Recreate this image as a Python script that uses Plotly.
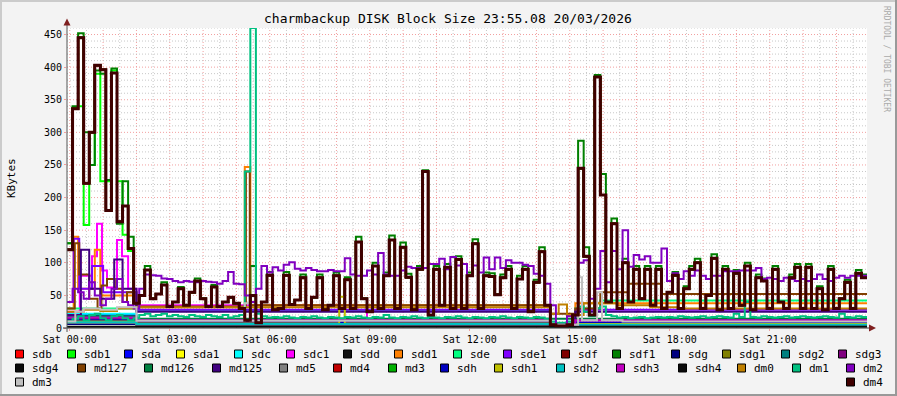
import plotly.graph_objects as go
import pandas as pd

START = pd.Timestamp("2026-03-20 23:55:00")
END = pd.Timestamp("2026-03-21 23:55:00")

# ---- 10-minute series (144 intervals from 23:55) ----
DM4 = [120, 336, 445, 222, 300, 403, 396, 180, 391, 163, 187, 122, 38,
       50, 89, 45, 52, 66, 33, 40, 60, 35, 55, 72, 45, 33, 63, 33, 40, 47, 38, 30, 12,
       50, 8, 40, 81, 28, 30, 81, 36, 43, 77, 30, 47, 77, 28, 35, 80, 30, 74, 30, 132,
       45, 25, 95, 30, 80, 135, 30, 124, 78, 28, 90, 240, 20, 90, 35, 93, 30, 105, 30,
       80, 129, 30, 80, 79, 51, 77, 90, 30, 75, 90, 25, 70, 117, 35, 5, 3, 3, 5,
       20, 245, 110, 20, 385, 204, 40, 160, 30, 100, 40, 90, 45, 90, 35, 90, 30,
       55, 81, 30, 60, 90, 100, 30, 50, 107, 28, 90, 30, 84, 35, 95, 28, 77, 72,
       30, 90, 40, 30, 77, 93, 30, 93, 30, 60, 28, 90, 30, 45, 70, 30, 84, 77]

SDF1 = [130, 340, 452, 300, 250, 395, 390, 227, 398, 160, 225, 140, 38,
        50, 95, 45, 52, 70, 33, 40, 63, 35, 55, 76, 45, 33, 66, 33, 40, 47, 38, 30, 12,
        95, 8, 40, 86, 28, 30, 86, 36, 43, 82, 30, 47, 82, 28, 35, 85, 30, 78, 30, 140,
        45, 25, 100, 30, 85, 142, 30, 131, 83, 28, 95, 242, 20, 95, 35, 98, 30, 110, 30,
        85, 136, 30, 85, 84, 51, 82, 95, 30, 80, 95, 25, 74, 124, 35, 5, 3, 3, 5,
        20, 287, 124, 20, 388, 236, 40, 168, 30, 106, 40, 95, 45, 95, 35, 95, 30,
        55, 86, 30, 64, 95, 106, 30, 50, 113, 28, 95, 30, 89, 35, 100, 28, 82, 76,
        30, 95, 40, 30, 82, 98, 30, 98, 30, 64, 28, 95, 30, 45, 74, 30, 89, 82]

SDB1 = [130, 338, 340, 158, 250, 390, 225, 225, 395, 225, 143, 118, 38,
        50, 89, 45, 52, 66, 33, 40, 60, 35, 55, 72, 45, 33, 63, 33, 40, 47, 38, 30, 12,
        50, 8, 40, 81, 28, 30, 81, 36, 43, 77, 30, 47, 77, 28, 35, 80, 30, 74, 30, 132,
        45, 25, 95, 30, 80, 135, 30, 124, 78, 28, 90, 240, 20, 90, 35, 93, 30, 105, 30,
        80, 129, 30, 80, 79, 51, 77, 90, 30, 75, 90, 25, 70, 117, 35, 5, 3, 3, 5,
        20, 245, 110, 20, 385, 204, 40, 160, 30, 100, 40, 90, 45, 90, 35, 90, 30,
        55, 81, 30, 60, 90, 100, 30, 50, 107, 28, 90, 30, 84, 35, 95, 28, 77, 72,
        30, 90, 40, 30, 77, 93, 30, 93, 30, 60, 28, 90, 30, 45, 70, 30, 84, 77]

DM2 = [40, 60, 55, 45, 70, 50, 35, 45, 60, 75, 40, 35, 30,
       60, 82, 81, 80, 76, 75, 72, 70, 72, 71, 70, 72, 71, 70, 68, 72, 86, 68, 67, 50,
       40, 60, 95, 85, 93, 88, 97, 101, 91, 88, 92, 89, 87, 87, 89, 87, 87, 107, 82, 80,
       80, 88, 82, 115, 82, 80, 80, 88, 94, 92, 92, 92, 98, 98, 106, 90, 109, 96, 98,
       80, 96, 85, 108, 90, 108, 92, 104, 100, 100, 97, 95, 83, 80, 68, 35, 5, 5, 18,
       20, 100, 104, 45, 60, 118, 70, 118, 90, 150, 94, 112, 105, 110, 100, 100, 122,
       72, 84, 75, 87, 80, 88, 80, 75, 80, 80, 87, 87, 87, 88, 88, 88, 92, 75, 77, 75,
       72, 77, 75, 72, 75, 72, 75, 82, 75, 72, 77, 80, 77, 80, 80, 80]

DM1 = [10, 14, 18, 12, 20, 22, 15, 12, 18, 20, 15, 12, 15,
       20, 22, 18, 20, 22, 18, 20, 18, 17, 20, 18, 17, 20, 18, 17, 20, 16, 18, 20,
       240, 460,
       22, 18, 16, 17, 16, 18, 16, 15, 17, 16, 18, 16, 15, 17, 16, 15, 17, 16, 18, 16,
       15, 17, 16, 20, 16, 15, 17, 16, 18, 16, 15, 17, 16, 15, 17, 16, 18, 16, 15, 17,
       16, 15, 17, 16, 18, 16, 15, 17, 16, 15, 17, 16, 14, 10, 8, 8, 10,
       20, 33, 25, 18, 30, 33, 20, 18, 16, 17, 15, 16, 17, 15, 16, 17, 16,
       17, 16, 18, 17, 16, 17, 18, 16, 17, 18, 17, 16, 22, 17, 40, 17, 16, 18,
       17, 16, 17, 18, 16, 17, 18, 17, 16, 17, 18, 17, 16, 22, 17, 16, 18, 17]

# ---- step series given as (minute from 23:55, value) breakpoints ----
SDA_T = [0, 125, 870, 915];  SDA_V = [20, 9, 3, 8]
SDA1_T = [0, 125, 870, 915]; SDA1_V = [14, 7, 2, 6]
SDC_T = [0, 125, 870, 915];  SDC_V = [22, 6, 2, 6]
SDC1_T = [0, 23, 45, 54, 63, 72, 90, 99, 110, 125, 540, 870, 915]
SDC1_V = [25, 80, 110, 160, 88, 62, 135, 110, 60, 35, 13, 4, 12]
SDD1_T = [0, 12, 20, 50, 60, 125, 320, 330, 870, 915]
SDD1_V = [30, 140, 60, 120, 50, 32, 247, 35, 5, 38]
SDE_T = [0, 125, 870, 915, 960];  SDE_V = [30, 26, 5, 30, 42]
SDE1_T = [0, 12, 22, 45, 65, 125, 870, 915]
SDE1_V = [40, 137, 60, 95, 55, 28, 4, 28]
SDG_T = [0, 125];  SDG_V = [6, 4]
SDG1_T = [0, 125]; SDG1_V = [9, 6]
SDG2_T = [0, 125]; SDG2_V = [10, 7]
SDG3_T = [0, 125, 870, 915]; SDG3_V = [14, 11, 3, 12]
MD127_T = [0, 14, 22, 40, 55, 62, 72, 86, 100, 108, 125, 322, 329, 870, 915, 960, 1010, 1070]
MD127_V = [30, 130, 82, 45, 30, 65, 75, 60, 40, 55, 33, 240, 35, 22, 30, 55, 68, 52]
MD126_T = [0, 125]; MD126_V = [18, 14]
MD125_T = [0, 25, 40, 60, 85, 100, 125, 870, 915]
MD125_V = [20, 120, 60, 45, 105, 60, 25, 4, 25]
MD5_T = [0, 125];   MD5_V = [8, 5]
SDH_T = [0, 125, 870, 915];  SDH_V = [12, 9, 3, 8]
SDH1_T = [0, 125, 490, 500, 870, 915]; SDH1_V = [10, 7, 48, 7, 3, 6]
SDH2_T = [0, 125, 870, 915]; SDH2_V = [9, 6, 2, 5]
SDH3_T = [0, 125, 870, 915]; SDH3_V = [16, 12, 3, 12]
SDH4_T = [0];  SDH4_V = [2]
DM0_T = [0, 30, 60, 90, 125, 870, 885, 900, 930, 990, 1050, 1100]
DM0_V = [25, 28, 26, 30, 32, 22, 36, 20, 38, 35, 32, 30]
DM3_T = [0, 15, 30, 60, 90, 125, 320, 330, 870, 920, 927, 954, 963, 1000]
DM3_V = [10, 25, 30, 28, 32, 11, 38, 11, 5, 78, 12, 55, 12, 10]

X_TICK_TEXT = ["Sat 00:00", "Sat 03:00", "Sat 06:00", "Sat 09:00",
               "Sat 12:00", "Sat 15:00", "Sat 18:00", "Sat 21:00"]
Y_TICKS = [0, 50, 100, 150, 200, 250, 300, 350, 400, 450]

NAMES = ["sdb", "sdb1", "sda", "sda1", "sdc", "sdc1", "sdd", "sdd1", "sde", "sde1",
         "sdf", "sdf1", "sdg", "sdg1", "sdg2", "sdg3", "sdg4", "md127", "md126",
         "md125", "md5", "md4", "md3", "sdh", "sdh1", "sdh2", "sdh3", "sdh4",
         "dm0", "dm1", "dm2", "dm3", "dm4"]
COLORS = ["#FF0000", "#00FF00", "#0000FF", "#FFFF00", "#00FFFF", "#FF00FF", "#111111",
          "#FF8000", "#00FF80", "#8000FF", "#800000", "#008000", "#000080", "#808000",
          "#008080", "#800080", "#0A0A0A", "#804000", "#008040", "#400080", "#808080",
          "#C00000", "#00B000", "#0000C0", "#C0C000", "#00C0C0", "#C000C0", "#0A0A0A",
          "#C08000", "#00C080", "#8000C0", "#C0C0C0", "#400000"]

GRID_SERIES = {"sdb": DM4, "sdb1": SDB1, "sdd": DM4, "sdf": DM4, "sdf1": SDF1,
               "sdg4": DM4, "md4": DM4, "md3": DM4, "dm1": DM1, "dm2": DM2, "dm4": DM4}
BP_SERIES = {"sda": (SDA_T, SDA_V), "sda1": (SDA1_T, SDA1_V), "sdc": (SDC_T, SDC_V),
             "sdc1": (SDC1_T, SDC1_V), "sdd1": (SDD1_T, SDD1_V), "sde": (SDE_T, SDE_V),
             "sde1": (SDE1_T, SDE1_V), "sdg": (SDG_T, SDG_V), "sdg1": (SDG1_T, SDG1_V),
             "sdg2": (SDG2_T, SDG2_V), "sdg3": (SDG3_T, SDG3_V),
             "md127": (MD127_T, MD127_V), "md126": (MD126_T, MD126_V),
             "md125": (MD125_T, MD125_V), "md5": (MD5_T, MD5_V), "sdh": (SDH_T, SDH_V),
             "sdh1": (SDH1_T, SDH1_V), "sdh2": (SDH2_T, SDH2_V), "sdh3": (SDH3_T, SDH3_V),
             "sdh4": (SDH4_T, SDH4_V), "dm0": (DM0_T, DM0_V), "dm3": (DM3_T, DM3_V)}


def ts(m):
    return (START + pd.Timedelta(minutes=m)).strftime("%Y-%m-%d %H:%M:%S")


def series_xy(name):
    if name in GRID_SERIES:
        vals = GRID_SERIES[name]
        xs = [ts(10 * i) for i in range(len(vals))] + [ts(1440)]
    else:
        T, vals = BP_SERIES[name]
        xs = [ts(t) for t in T] + [ts(1440)]
    return xs, list(vals) + [vals[-1]]


W, H = 897, 396
L, R, T_, B = 67, 867, 28, 328
FONT = "DejaVu Sans Mono"


def px(x):
    return (x - L) / (R - L)


def py(y):
    return (B - y) / (B - T_)


fig = go.Figure()
for name, col in zip(NAMES, COLORS):
    xs, ys = series_xy(name)
    lw = 3 if name == "dm4" else 2
    fig.add_trace(go.Scatter(x=xs, y=ys, mode="lines", name=name,
                             line=dict(color=col, width=lw, shape="hv"),
                             showlegend=False, hoverinfo="skip"))

shapes = []
# vertical grid every 30 min, red every hour
for k in range(48):
    m = 5 + 30 * k
    col = "#F2A0A0" if k % 2 == 0 else "#C8C8C8"
    shapes.append(dict(type="line", xref="x", yref="paper", x0=ts(m), x1=ts(m),
                       y0=0, y1=1, layer="below",
                       line=dict(color=col, width=1, dash="1px,2px")))
for v in range(10, 470, 10):
    col = "#F2A0A0" if v % 50 == 0 else "#C8C8C8"
    shapes.append(dict(type="line", xref="paper", yref="y", x0=0, x1=1, y0=v, y1=v,
                       layer="below", line=dict(color=col, width=1, dash="1px,2px")))
# axes
shapes.append(dict(type="line", xref="paper", yref="paper", x0=px(63), x1=px(871),
                   y0=py(328), y1=py(328), line=dict(color="#333333", width=1)))
shapes.append(dict(type="line", xref="paper", yref="paper", x0=px(67), x1=px(67),
                   y0=py(332), y1=py(22), line=dict(color="#555555", width=1)))
# arrows
shapes.append(dict(type="path", xref="paper", yref="paper",
                   path=f"M {px(63.5)} {py(25.5)} L {px(70.5)} {py(25.5)} L {px(67)} {py(18.5)} Z",
                   fillcolor="#7F1F1F", line=dict(color="#7F1F1F", width=0)))
shapes.append(dict(type="path", xref="paper", yref="paper",
                   path=f"M {px(869)} {py(324.5)} L {px(869)} {py(331.5)} L {px(876)} {py(328)} Z",
                   fillcolor="#7F1F1F", line=dict(color="#7F1F1F", width=0)))
# 3D border
shapes.append(dict(type="rect", xref="paper", yref="paper", x0=px(0), x1=px(W),
                   y0=py(0), y1=py(2), fillcolor="#CBCBCB", line=dict(width=0)))
shapes.append(dict(type="rect", xref="paper", yref="paper", x0=px(0), x1=px(2),
                   y0=py(0), y1=py(H), fillcolor="#CBCBCB", line=dict(width=0)))
shapes.append(dict(type="rect", xref="paper", yref="paper", x0=px(0), x1=px(W),
                   y0=py(H - 2), y1=py(H), fillcolor="#999999", line=dict(width=0)))
shapes.append(dict(type="rect", xref="paper", yref="paper", x0=px(W - 2), x1=px(W),
                   y0=py(0), y1=py(H), fillcolor="#999999", line=dict(width=0)))

# legend (rrdtool-like justified rows)
LEG_ROWS = [
    (354, [15, 67, 124, 176, 234, 286, 343, 394, 453, 503, 561, 612, 671, 722, 781, 838]),
    (368, [15, 77, 144, 212, 279, 333, 388, 440, 494, 556, 616, 678, 737, 792, 846]),
    (382, [15, 846]),
]
annotations = []
idx = 0
for yc, xs_row in LEG_ROWS:
    for xb in xs_row:
        name, col = NAMES[idx], COLORS[idx]
        idx += 1
        shapes.append(dict(type="rect", xref="paper", yref="paper",
                           x0=px(xb + 0.5), x1=px(xb + 8.5), y0=py(yc - 4), y1=py(yc + 4),
                           fillcolor=col, line=dict(color="#000000", width=1)))
        annotations.append(dict(xref="paper", yref="paper", x=px(xb + 15), y=py(yc),
                                text=name, showarrow=False, xanchor="left",
                                yanchor="middle",
                                font=dict(family=FONT, size=11, color="#000000")))

annotations.append(dict(xref="paper", yref="paper", x=px(448), y=py(19),
                        text="charmbackup DISK Block Size 23:55.08 20/03/2026",
                        showarrow=False, xanchor="center", yanchor="middle",
                        font=dict(family=FONT, size=13, color="#000000")))
annotations.append(dict(xref="paper", yref="paper", x=px(11), y=py(178), text="KBytes",
                        showarrow=False, textangle=-90, xanchor="center",
                        yanchor="middle", font=dict(family=FONT, size=11, color="#000000")))
annotations.append(dict(xref="paper", yref="paper", x=px(887), y=py(59),
                        text="RRDTOOL / TOBI OETIKER", showarrow=False, textangle=90,
                        xanchor="center", yanchor="middle",
                        font=dict(family=FONT, size=8, color="#AAAAAA")))

tick_x = [ts(5 + 180 * k) for k in range(len(X_TICK_TEXT))]
fig.update_layout(
    width=W, height=H, autosize=False,
    margin=dict(l=L, r=W - R, t=T_, b=H - B, pad=0),
    paper_bgcolor="#F3F3F3", plot_bgcolor="#FFFFFF",
    shapes=shapes, annotations=annotations, showlegend=False,
    xaxis=dict(type="date", range=[ts(0), ts(1440)], showgrid=False, zeroline=False,
               showline=False, tickmode="array", tickvals=tick_x, ticktext=X_TICK_TEXT,
               tickfont=dict(family=FONT, size=10, color="#000000"), ticks="outside",
               ticklen=2, tickcolor="#F2A0A0", fixedrange=True),
    yaxis=dict(range=[0, 460], showgrid=False, zeroline=False, showline=False,
               tickmode="array", tickvals=Y_TICKS, ticktext=[str(v) for v in Y_TICKS],
               tickfont=dict(family=FONT, size=10, color="#000000"), ticks="outside",
               ticklen=2, tickcolor="#F2A0A0", fixedrange=True),
)
fig.write_html("out.html")
